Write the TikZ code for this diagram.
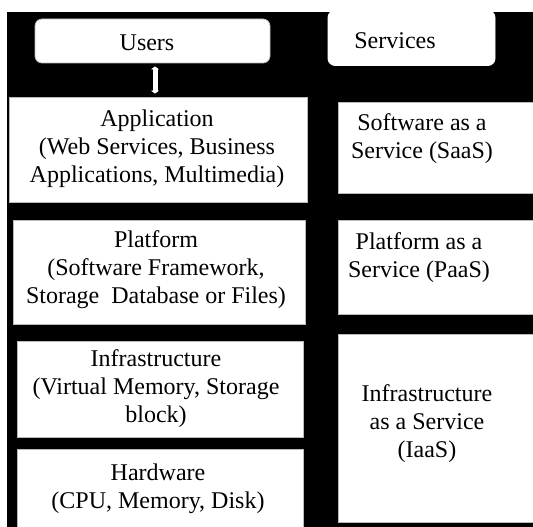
\documentclass[tikz,border=0pt]{standalone}
\usepackage{fontspec}
\setmainfont{Liberation Serif}
\usetikzlibrary{arrows.meta}
\begin{document}
\begin{tikzpicture}[x=1pt,y=-1pt,
  wbox/.style={fill=white,draw=gray!55,line width=0.8pt,inner sep=0pt,
    minimum width=#1},
  rbox/.style={fill=white,draw=gray!55,line width=0.8pt,inner sep=0pt,rounded corners=7pt},
  lbl/.style={align=center,font=\fontsize{24}{28}\selectfont,inner sep=0pt},
  link/.style={white,line width=5pt,{Triangle[width=8pt,length=3pt]}-{Triangle[width=8pt,length=3pt]},shorten <=3pt,shorten >=3pt}]
\useasboundingbox (0,0) rectangle (533,527);
\fill[white] (0,0) rectangle (533,527);
\fill[black] (7,12) rectangle (533,527);
% boxes
\node[rbox,minimum width=235pt,minimum height=44pt] (users) at (152.5,41) {};
\node[rbox,draw=white,minimum width=167pt,minimum height=55pt] (services) at (411.5,38) {};
\node[wbox=298pt,minimum height=105pt] (app) at (158,149.5) {};
\node[wbox=196pt,minimum height=91pt] (saas) at (436,147.5) {};
\node[wbox=292pt,minimum height=104pt] (plat) at (159,272) {};
\node[wbox=196pt,minimum height=94pt] (paas) at (436,267) {};
\node[wbox=286pt,minimum height=96pt] (infra) at (160,389) {};
\node[wbox=286pt,minimum height=80pt] (hw) at (160,489) {};
\node[wbox=196pt,minimum height=188pt] (iaas) at (436,428) {};
% texts
\node[lbl] (usersT) at (147,43) {Users};
\node[lbl] (servicesT) at (395,41) {Services};
\node[lbl] (appT) at (157,149) {Application\\(Web Services, Business\\Applications, Multimedia)};
\node[lbl] (saasT) at (422,139) {Software as a\\Service (SaaS)};
\node[lbl] (platT) at (156,270) {Platform\\(Software Framework,\\Storage\ \ Database or Files)};
\node[lbl] (paasT) at (419,258) {Platform as a\\Service (PaaS)};
\node[lbl] (infraT) at (156,389) {Infrastructure\\(Virtual Memory, Storage\\block)};
\node[lbl] (hwT) at (158,489) {Hardware\\(CPU, Memory, Disk)};
\node[lbl] (iaasT) at (427,424) {Infrastructure\\as a Service\\(IaaS)};
% connector
\draw[link] (users.south -| 155,0) -- (app.north -| 155,0);
\end{tikzpicture}
\end{document}
